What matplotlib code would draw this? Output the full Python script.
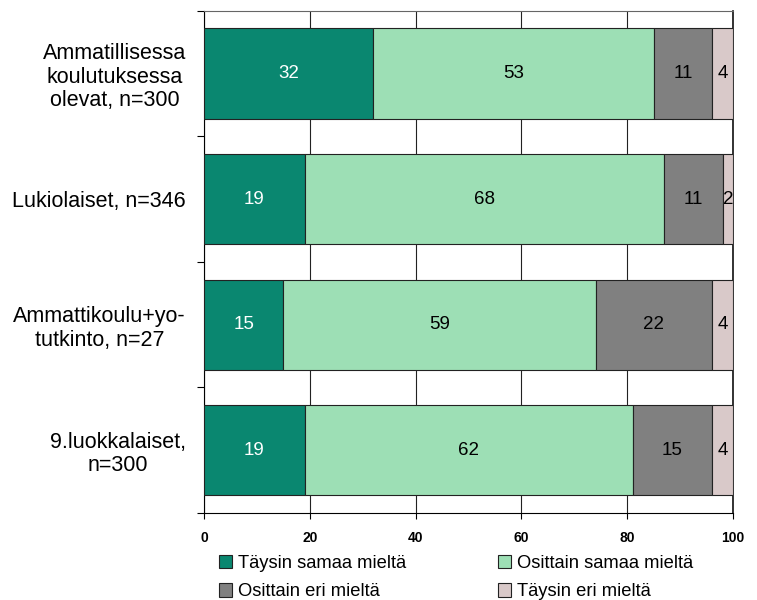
import numpy as np
import matplotlib.pyplot as plt

plt.rcParams['font.family'] = ['Liberation Sans', 'DejaVu Sans']

ryhmat = ['Ammatillisessa\nkoulutuksessa\nolevat, n=300', 'Lukiolaiset, n=346',
          'Ammattikoulu+yo-\ntutkinto, n=27', '9.luokkalaiset,\nn=300']
sarjat = ['Täysin samaa mieltä', 'Osittain samaa mieltä', 'Osittain eri mieltä', 'Täysin eri mieltä']
taysin_samaa = [32, 19, 15, 19]
osittain_samaa = [53, 68, 59, 62]
osittain_eri = [11, 11, 22, 15]
taysin_eri = [4, 2, 4, 4]
varit = ['#0a8770', '#9ddfb5', '#808080', '#d9c9c9']
tekstivarit = ['white', 'black', 'black', 'black']

fig = plt.figure(figsize=(7.57, 6), dpi=100)
ax = fig.add_axes([0.2695, 0.145, 0.699, 0.8368])

y = np.arange(len(ryhmat))
vasen = np.zeros(len(ryhmat))
for nimi, arvot, vari, tv in zip(sarjat, [taysin_samaa, osittain_samaa, osittain_eri, taysin_eri], varit, tekstivarit):
    arvot = np.array(arvot, dtype=float)
    ax.barh(y, arvot, left=vasen, height=0.72, color=vari, edgecolor='#222222', linewidth=0.8, label=nimi, zorder=3)
    for i in range(len(y)):
        ax.text(vasen[i] + arvot[i] / 2, y[i], str(int(arvot[i])), ha='center', va='center',
                color=tv, fontsize=13.5, zorder=4)
    vasen += arvot

ax.set_xlim(0, 100)
ax.set_ylim(len(ryhmat) - 0.5, -0.5)
ax.set_xticks(np.arange(0, 101, 20))
ax.set_xticklabels([str(v) for v in range(0, 101, 20)], fontweight='bold', fontsize=10)
ax.set_yticks(np.arange(len(ryhmat) + 1) - 0.5)
ax.set_yticklabels([])
ax.set_yticks(y, minor=True)
ax.set_yticklabels(ryhmat, minor=True, fontsize=15.5, linespacing=1.15, ha='right', ma='center')
ax.tick_params(axis='y', which='minor', length=0, pad=13)
ax.tick_params(axis='y', which='major', length=5, direction='out')
ax.tick_params(axis='x', length=4, pad=9)
ax.xaxis.grid(True, color='#222222', linewidth=0.8, zorder=0)
ax.set_axisbelow(True)
ax.spines['top'].set_color('#666666')
ax.spines['right'].set_color('#111111')
ax.spines['right'].set_linewidth(1.2)

h, l = ax.get_legend_handles_labels()
jarj = [0, 2, 1, 3]
fig.legend([h[i] for i in jarj], [l[i] for i in jarj], loc='lower left', bbox_to_anchor=(0.267, -0.028),
           ncol=2, frameon=False, fontsize=13.2,
           handlelength=0.75, handleheight=0.75, handletextpad=0.3, columnspacing=5.0, labelspacing=0.63)

fig.savefig('out.png', dpi=100)
